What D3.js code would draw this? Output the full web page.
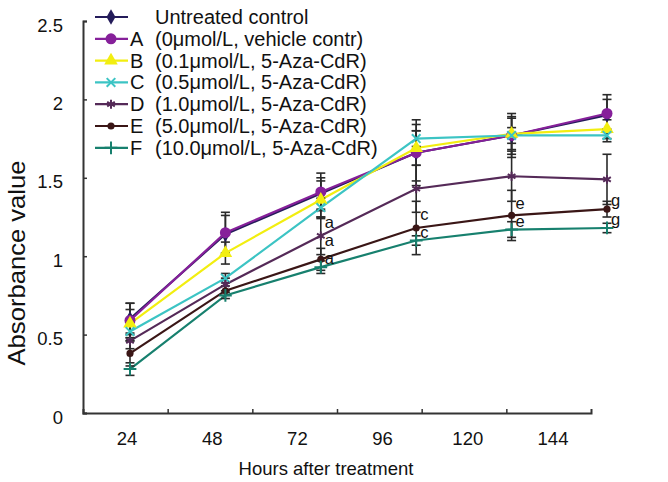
<!DOCTYPE html>
<html>
<head>
<meta charset="utf-8">
<script src="https://cdn.jsdelivr.net/npm/d3@7"></script>
<style>
  html, body { margin: 0; padding: 0; background: #fff; }
  svg { display: block; font-family: "Liberation Sans", Arial, sans-serif; }
</style>
</head>
<body>
<svg id="chart" width="668" height="482"></svg>
<script>
// ---------------- data ----------------
const categories = ["24", "48", "72", "96", "120", "144"];
const yTickValues = [0, 0.5, 1, 1.5, 2, 2.5];
const yTickLabels = ["0", "0.5", "1", "1.5", "2", "2.5"];

const seriesKeys   = ["U", "A", "B", "C", "D", "E", "F"];
const seriesLetter = ["", "A", "B", "C", "D", "E", "F"];
const seriesDesc   = [
  "Untreated control",
  "(0μmol/L, vehicle contr)",
  "(0.1μmol/L, 5-Aza-CdR)",
  "(0.5μmol/L, 5-Aza-CdR)",
  "(1.0μmol/L, 5-Aza-CdR)",
  "(5.0μmol/L, 5-Aza-CdR)",
  "(10.0μmol/L, 5-Aza-CdR)"
];

const valuesU = [0.60, 1.14, 1.40, 1.66, 1.77, 1.90];
const valuesA = [0.59, 1.15, 1.41, 1.66, 1.77, 1.91];
const valuesB = [0.57, 1.02, 1.36, 1.69, 1.78, 1.81];
const valuesC = [0.52, 0.86, 1.31, 1.75, 1.77, 1.77];
const valuesD = [0.46, 0.82, 1.13, 1.43, 1.51, 1.49];
const valuesE = [0.38, 0.78, 0.98, 1.18, 1.26, 1.30];
const valuesF = [0.28, 0.75, 0.93, 1.10, 1.17, 1.18];

const errorsU = [0.10, 0.12, 0.10, 0.18, 0.12, 0.10];
const errorsA = [0.11, 0.13, 0.12, 0.21, 0.14, 0.12];
const errorsB = [0.09, 0.07, 0.12, 0.11, 0.10, 0.06];
const errorsC = [0.06, 0.03, 0.06, 0.05, 0.05, 0.04];
const errorsD = [0.05, 0.04, 0.12, 0.15, 0.16, 0.16];
const errorsE = [0.08, 0.03, 0.07, 0.17, 0.16, 0.05];
const errorsF = [0.04, 0.02, 0.04, 0.03, 0.05, 0.03];

// significance letters: [category, series, letter]
const sigCategories = ["72", "72", "72", "96", "96", "120", "120", "144", "144"];
const sigSeries     = ["D",  "E",  "F",  "E",  "F",  "E",   "F",   "E",   "F"];
const sigLetters    = ["a",  "a",  "a",  "c",  "c",  "e",   "e",   "g",   "g"];

// ---------------- styling ----------------
const seriesColor = ["#241c5a", "#86209a", "#f2ee10", "#3cc4c4", "#552a58", "#3a1616", "#17806e"];
const seriesSymbol = [d3.symbolDiamond, d3.symbolCircle, d3.symbolTriangle, d3.symbolTimes,
                      d3.symbolAsterisk, d3.symbolCircle, d3.symbolPlus];
const symbolSize = [70, 95, 80, 50, 55, 40, 55];
const strokeSymbol = [false, false, false, true, true, false, true];

const allValues = [valuesU, valuesA, valuesB, valuesC, valuesD, valuesE, valuesF];
const allErrors = [errorsU, errorsA, errorsB, errorsC, errorsD, errorsE, errorsF];

const series = seriesKeys.map((k, i) => ({
  key: k, letter: seriesLetter[i], desc: seriesDesc[i], color: seriesColor[i],
  symbol: seriesSymbol[i], size: symbolSize[i], strokeSym: strokeSymbol[i],
  points: categories.map((c, j) => ({ cat: c, v: allValues[i][j], e: allErrors[i][j] }))
}));

// ---------------- scales ----------------
const svg = d3.select("#chart");
const y = d3.scaleLinear().domain([0, 2.5]).range([413, 21]);
const xEdge = d3.scaleLinear().domain([0, 6]).range([83, 591]);      // axis frame
const xLabel = d3.scalePoint().domain(categories).range([127, 553]); // axis labels
const xData = d3.scalePoint().domain(categories).range([130, 607]);  // plotted points

// ---------------- axes ----------------
const axisColor = "#333";
const yAxis = svg.append("g").attr("transform", "translate(83,0)")
  .call(d3.axisLeft(y).tickValues(yTickValues)
    .tickFormat((d, i) => yTickLabels[i]).tickSize(-4).tickPadding(20));
yAxis.selectAll("text").attr("font-size", 18.5).attr("fill", "#111").attr("dy", "0.55em");

const xAxis = svg.append("g").attr("transform", "translate(0,413)")
  .call(d3.axisBottom(xEdge).tickValues([1, 2, 3, 4, 5]).tickSize(-4).tickFormat(""));

[yAxis, xAxis].forEach(g => {
  g.select(".domain").attr("stroke", axisColor).attr("stroke-width", 2);
  g.selectAll(".tick line").attr("stroke", axisColor).attr("stroke-width", 1.5);
});

svg.append("g").selectAll("text").data(categories).join("text")
  .attr("x", d => xLabel(d)).attr("y", 445)
  .attr("text-anchor", "middle").attr("font-size", 18.5).attr("fill", "#111")
  .text(d => d);

svg.append("text").attr("x", 326).attr("y", 475)
  .attr("text-anchor", "middle").attr("font-size", 18.5).attr("fill", "#111")
  .text("Hours after treatment");

svg.append("text").attr("transform", "translate(25,263) rotate(-90)")
  .attr("text-anchor", "middle").attr("font-size", 24).attr("fill", "#111")
  .attr("textLength", 205).attr("lengthAdjust", "spacingAndGlyphs")
  .text("Absorbance value");

// ---------------- lines ----------------
const line = d3.line().x(d => xData(d.cat)).y(d => y(d.v));
const plot = svg.append("g");
series.forEach(s => {
  plot.append("path").datum(s.points)
    .attr("fill", "none").attr("stroke", s.color).attr("stroke-width", 2.2)
    .attr("d", line);
});

// ---------------- error bars ----------------
const eb = svg.append("g").attr("stroke", "#2a2a2a").attr("stroke-width", 1.6);
series.forEach(s => {
  s.points.forEach(p => {
    const x = xData(p.cat);
    eb.append("line").attr("x1", x).attr("x2", x)
      .attr("y1", y(p.v - p.e)).attr("y2", y(p.v + p.e));
    [p.v - p.e, p.v + p.e].forEach(v => {
      eb.append("line").attr("x1", x - 4.5).attr("x2", x + 4.5)
        .attr("y1", y(v)).attr("y2", y(v));
    });
  });
});

// ---------------- markers ----------------
function drawMarker(g, s, cx, cy) {
  const p = g.append("path")
    .attr("d", d3.symbol().type(s.symbol).size(s.size)())
    .attr("transform", `translate(${cx},${cy})`);
  if (s.strokeSym) p.attr("fill", "none").attr("stroke", s.color).attr("stroke-width", 2);
  else p.attr("fill", s.color);
}
const mk = svg.append("g");
series.forEach(s => s.points.forEach(p => drawMarker(mk, s, xData(p.cat), y(p.v))));

// ---------------- significance letters (dodged upward per category) ----------------
const sigItems = sigLetters.map((t, i) => {
  const si = seriesKeys.indexOf(sigSeries[i]);
  const ci = categories.indexOf(sigCategories[i]);
  return { cat: sigCategories[i], text: t, py: y(allValues[si][ci]) };
});
d3.groups(sigItems, d => d.cat).forEach(([cat, items]) => {
  items.sort((a, b) => b.py - a.py); // lowest on screen first
  let prev = Infinity;
  items.forEach(it => {
    let c = it.py - 8;
    if (c > prev - 18) c = prev - 18;
    it.cy = c; prev = c;
  });
});
svg.append("g").selectAll("text").data(sigItems).join("text")
  .attr("x", d => xData(d.cat) + 4)
  .attr("y", d => d.cy + 5)
  .attr("font-size", 16.5).attr("fill", "#111")
  .text(d => d.text);

// ---------------- legend ----------------
const legend = svg.append("g");
series.forEach((s, i) => {
  const cy = 17 + i * 21.8;
  legend.append("line").attr("x1", 95).attr("x2", 128).attr("y1", cy).attr("y2", cy)
    .attr("stroke", s.color).attr("stroke-width", 2.2);
  drawMarker(legend, s, 111, cy);
  if (s.letter) {
    legend.append("text").attr("x", 130).attr("y", cy + 7)
      .attr("font-size", 20).attr("fill", "#111").text(s.letter);
  }
  legend.append("text").attr("x", 155).attr("y", cy + 7)
    .attr("font-size", 20).attr("fill", "#111").text(s.desc);
});
</script>
</body>
</html>
